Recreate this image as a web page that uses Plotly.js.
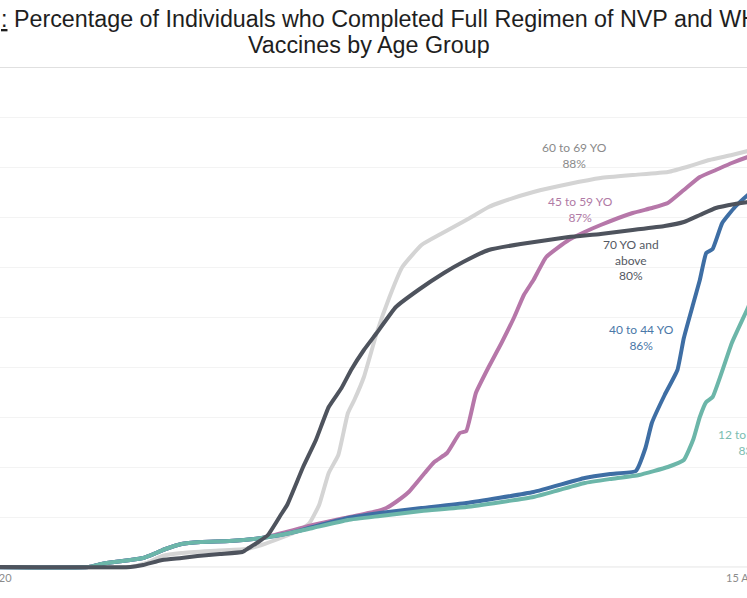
<!DOCTYPE html>
<html>
<head>
<meta charset="utf-8">
<script src="https://cdn.plot.ly/plotly-3.0.1.min.js"></script>
<style>
  html, body { margin: 0; padding: 0; width: 747px; height: 598px; overflow: hidden; background: #ffffff; }
  #chart { position: absolute; left: -100px; top: 0; width: 947px; height: 598px; }
</style>
</head>
<body>
<div id="chart"></div>
<script>
// ---- Data ----
const tickDates = ['2020-12-15', '2021-08-15'];
const tickLabels = ['15 Dec 2020', '15 Aug 2021'];

const age12to39Dates = ['2020-12-15','2021-01-18','2021-01-22','2021-01-26','2021-01-31','2021-02-04','2021-02-08','2021-02-11','2021-02-16','2021-02-22','2021-03-03','2021-03-13','2021-03-22','2021-03-29','2021-04-09','2021-04-19','2021-05-02','2021-05-16','2021-06-06','2021-06-14','2021-06-22','2021-06-30','2021-07-09','2021-07-18','2021-07-23','2021-07-26','2021-07-28','2021-07-30','2021-08-01','2021-08-07','2021-08-12','2021-08-16'];
const age12to39Values = [0,0,0.6,1.0,1.4,1.8,2.8,3.6,4.6,5.0,5.2,5.8,6.8,7.8,9.4,10.2,11.2,12.0,14.0,15.4,16.8,17.6,18.4,20.0,21.4,25.6,30.0,33.0,34.0,44.8,51.8,58.0];

const age40to44Dates = ['2020-12-15','2021-01-18','2021-01-22','2021-01-26','2021-01-31','2021-02-04','2021-02-08','2021-02-11','2021-02-16','2021-02-22','2021-03-03','2021-03-13','2021-03-22','2021-03-29','2021-04-09','2021-04-19','2021-05-02','2021-05-16','2021-06-06','2021-06-22','2021-06-30','2021-07-08','2021-07-11','2021-07-13','2021-07-17','2021-07-21','2021-07-23','2021-07-26','2021-07-28','2021-07-30','2021-08-01','2021-08-04','2021-08-08','2021-08-12','2021-08-16'];
const age40to44Values = [0,0,0.6,1.0,1.4,1.8,2.8,3.6,4.6,5.0,5.2,5.8,6.8,8.0,9.8,10.8,11.8,12.8,15.0,17.8,18.6,19.2,23.8,28.8,34.4,39.4,45.8,52.8,57.4,62.8,63.6,68.8,72.0,74.4,76.4];

const age45to59Dates = ['2020-12-15','2021-01-18','2021-01-22','2021-01-26','2021-01-31','2021-02-04','2021-02-08','2021-02-11','2021-02-16','2021-02-22','2021-03-03','2021-03-13','2021-03-22','2021-03-29','2021-04-08','2021-04-17','2021-04-21','2021-04-24','2021-04-28','2021-05-03','2021-05-06','2021-05-10','2021-05-14','2021-05-16','2021-05-19','2021-05-23','2021-05-27','2021-05-31','2021-06-03','2021-06-06','2021-06-10','2021-06-17','2021-06-22','2021-06-27','2021-07-07','2021-07-13','2021-07-18','2021-07-23','2021-07-28','2021-08-02','2021-08-07','2021-08-12','2021-08-16'];
const age45to59Values = [0,0,0.6,1.0,1.4,1.8,2.8,3.6,4.6,5.0,5.2,5.8,7.2,8.4,9.8,11.0,11.8,13.0,15.0,18.8,21.0,22.8,26.8,27.2,34.8,40.0,44.8,50.0,54.4,57.4,62.0,65.4,67.0,68.4,70.8,71.8,72.8,75.4,78.0,79.4,80.8,82.0,82.8];

const age60to69Dates = ['2020-12-15','2021-01-31','2021-02-05','2021-02-10','2021-02-16','2021-02-25','2021-03-08','2021-03-13','2021-03-19','2021-03-25','2021-03-28','2021-03-31','2021-04-03','2021-04-06','2021-04-09','2021-04-11','2021-04-14','2021-04-18','2021-04-22','2021-04-26','2021-05-02','2021-05-08','2021-05-16','2021-05-23','2021-05-27','2021-06-06','2021-06-17','2021-06-27','2021-07-07','2021-07-18','2021-07-25','2021-07-31','2021-08-07','2021-08-12','2021-08-16'];
const age60to69Values = [0,0,0.8,2.2,2.8,3.2,3.6,4.4,5.8,7.4,8.8,12.4,18.8,22.4,30.8,33.4,38.0,46.8,54.0,60.0,64.4,66.6,69.4,72.0,73.0,75.0,76.6,77.8,78.4,79.0,80.2,81.4,82.4,83.2,83.8];

const age70plusDates = ['2020-12-15','2021-01-31','2021-02-04','2021-02-10','2021-02-16','2021-02-21','2021-02-28','2021-03-07','2021-03-09','2021-03-12','2021-03-15','2021-03-19','2021-03-21','2021-03-26','2021-03-30','2021-04-03','2021-04-07','2021-04-10','2021-04-14','2021-04-18','2021-04-24','2021-05-01','2021-05-09','2021-05-15','2021-05-23','2021-06-02','2021-06-17','2021-06-27','2021-07-07','2021-07-17','2021-07-23','2021-07-28','2021-08-02','2021-08-08','2021-08-12','2021-08-16'];
const age70plusValues = [0,0,0.4,1.4,1.8,2.2,2.6,3.0,3.8,5.0,6.4,10.4,12.4,20.0,25.4,32.0,35.8,39.4,43.4,46.8,52.0,55.4,58.8,61.0,63.4,64.6,66.0,66.6,67.4,68.2,69.0,70.4,71.8,72.6,73.0,73.4];

const groupNames = ['60 to 69 YO', '45 to 59 YO', '40 to 44 YO', '12 to 39 YO', '70 YO and above'];
const endLabels = ['60 to 69 YO<br>88%', '45 to 59 YO<br>87%', '70 YO and<br>above<br>80%', '40 to 44 YO<br>86%', '12 to 39 YO<br>83%'];

// ---- Layout helpers (window pixels -> paper coords) ----
const OFF = 100, W = 947, TOP = 67, PH = 503;
const px = x => (x + OFF) / W;
const py = y => (TOP + PH - y) / PH;

function line(name, x, y, color) {
  return { type: 'scatter', mode: 'lines', name: name, x: x, y: y,
           line: { color: color, width: 4, shape: 'spline', smoothing: 0.4 }, hoverinfo: 'skip' };
}

const traces = [
  line(groupNames[0], age60to69Dates, age60to69Values, '#d4d4d4'),
  line(groupNames[1], age45to59Dates, age45to59Values, '#b677a9'),
  line(groupNames[2], age40to44Dates, age40to44Values, '#3e6ea4'),
  line(groupNames[3], age12to39Dates, age12to39Values, '#6cb6a9'),
  line(groupNames[4], age70plusDates, age70plusValues, '#4e535d')
];

const lblFont = (c) => ({ family: 'Lato, "Noto Sans", sans-serif', size: 12, color: c });
const lbl = (x, y, text, color) => ({ xref: 'paper', yref: 'paper', x: px(x), y: py(y),
  xanchor: 'center', yanchor: 'middle', showarrow: false, align: 'center', text: text, font: lblFont(color) });

const titleFont = { family: '"Liberation Sans", Arial, sans-serif', size: 23.3, color: '#1e1e1e' };

const annotations = [
  { xref: 'paper', yref: 'paper', x: px(-1), y: py(19), xanchor: 'left', yanchor: 'middle', showarrow: false,
    text: '<u>:</u> Percentage of Individuals who Completed Full Regimen of NVP and WHO EUL', font: titleFont },
  { xref: 'paper', yref: 'paper', x: px(369), y: py(45), xanchor: 'center', yanchor: 'middle', showarrow: false,
    text: 'Vaccines by Age Group', font: titleFont },
  lbl(574, 155, endLabels[0], '#8a8a8a'),
  lbl(580, 210, endLabels[1], '#b07aa5'),
  lbl(631, 260, endLabels[2], '#545963'),
  lbl(641, 337, endLabels[3], '#4a78a8'),
  lbl(750, 442, endLabels[4], '#7cbdb1')
];

const layout = {
  width: W, height: 598,
  margin: { l: 0, r: 0, t: TOP, b: 598 - TOP - PH, pad: 0 },
  paper_bgcolor: '#ffffff', plot_bgcolor: '#ffffff',
  showlegend: false,
  hovermode: false,
  xaxis: {
    type: 'date',
    range: ['2020-11-20', '2021-09-12'],
    tickmode: 'array', tickvals: tickDates, ticktext: tickLabels,
    showgrid: false, zeroline: false, showline: false, ticks: '',
    tickfont: { family: 'Lato, "Noto Sans", sans-serif', size: 11, color: '#8c8c8c' },
    fixedrange: true
  },
  yaxis: {
    range: [-0.6, 100],
    dtick: 10, tick0: 0,
    showgrid: true, gridcolor: '#f3f3f3', gridwidth: 1,
    zeroline: false, showline: false, showticklabels: false, ticks: '',
    fixedrange: true
  },
  shapes: [
    { type: 'line', xref: 'paper', yref: 'y', x0: 0, x1: 1, y0: 0, y1: 0, line: { color: '#e2e2e2', width: 1 }, layer: 'below' },
    { type: 'line', xref: 'paper', yref: 'y', x0: 0, x1: 1, y0: 100, y1: 100, line: { color: '#d6d6d6', width: 1.5 }, layer: 'below' }
  ],
  annotations: annotations
};

Plotly.newPlot('chart', traces, layout, { staticPlot: true, displayModeBar: false });
</script>
</body>
</html>
